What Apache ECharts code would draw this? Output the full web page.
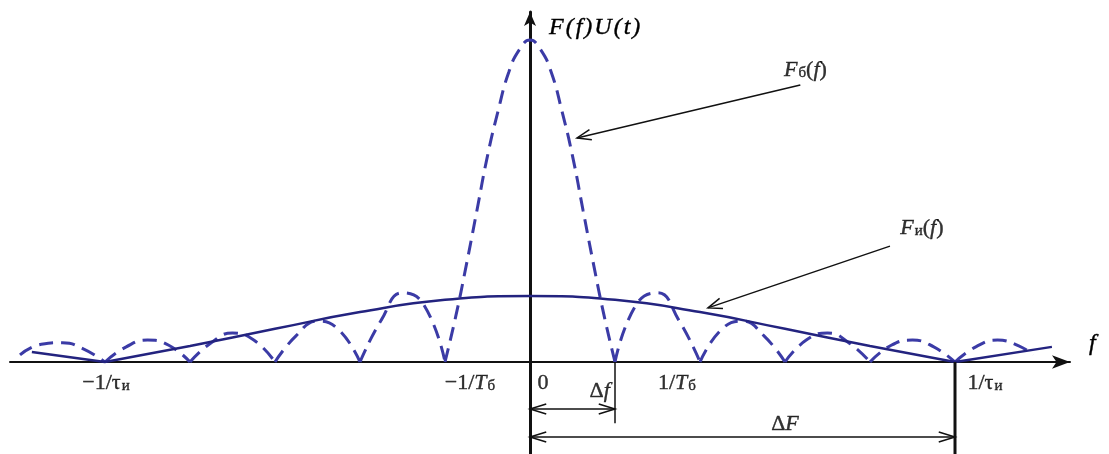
<!DOCTYPE html>
<html>
<head>
<meta charset="utf-8">
<script src="https://cdn.jsdelivr.net/npm/echarts@6/dist/echarts.min.js"></script>
<style>
html,body{margin:0;padding:0;background:#fff;}
#chart{width:1109px;height:454px;}
</style>
</head>
<body>
<div id="chart"></div>
<script>
// Fб(f) - dashed spectrum, lobes (x in 1/Tб, y relative to main peak)
var fbMainLobe = [[-1,0],[-0.875,0.14],[-0.75,0.30],[-0.625,0.47],[-0.5,0.64],[-0.375,0.78],[-0.25,0.90],[-0.125,0.97],
	[0,1],[0.125,0.97],[0.25,0.90],[0.375,0.78],[0.5,0.64],[0.625,0.47],[0.75,0.30],[0.875,0.14],[1,0]];
var fbLeftLobes = [
	[[-6,0.022],[-5.75,0.055],[-5.5,0.06],[-5.25,0.04],[-5,0]],
	[[-5,0],[-4.75,0.047],[-4.5,0.068],[-4.25,0.052],[-4,0]],
	[[-4,0],[-3.75,0.06],[-3.5,0.09],[-3.25,0.068],[-3,0]],
	[[-3,0],[-2.75,0.082],[-2.5,0.127],[-2.25,0.10],[-2,0]],
	[[-2,0],[-1.75,0.13],[-1.5,0.215],[-1.25,0.178],[-1,0]]
];
var fbRightLobes = [
	[[1,0],[1.25,0.178],[1.5,0.215],[1.75,0.13],[2,0]],
	[[2,0],[2.25,0.10],[2.5,0.127],[2.75,0.082],[3,0]],
	[[3,0],[3.25,0.068],[3.5,0.09],[3.75,0.06],[4,0]],
	[[4,0],[4.25,0.052],[4.5,0.068],[4.75,0.047],[5,0]],
	[[5,0],[5.25,0.048],[5.5,0.068],[5.75,0.05],[5.92,0.022]]
];
// Fи(f) - solid spectrum
var fiMain = [[-5,0],[-4,0.05],[-3,0.103],[-2,0.155],[-1,0.193],[0,0.205],[1,0.193],[2,0.155],[3,0.103],[4,0.05],[5,0]];
var fiLeftTail = [[-5.86,0.031],[-5,0]];
var fiRightTail = [[5,0],[6.14,0.047]];

// tick labels on the f axis
var tickValues = [-5, -1, 0, 1, 5];
var tickTexts = ['{n|\u22121/\u03c4}{s|\u0438}', '{n|\u22121/}{i|T}{s|\u0431}', '{n|0}', '{n|1/}{i|T}{s|\u0431}', '{n|1/\u03c4}{s|\u0438}'];

// annotations: pointer arrows [x1,y1,x2,y2], dimension arrows, texts
var pointerArrows = [[3.18,0.86,0.553,0.696],[4.235,0.36,2.094,0.168]];
var dimArrows = [[0,-0.146,1,-0.146],[0,-0.233,5,-0.233]];
var noteTexts = ['{i|F}{s|\u0431}{n|(}{i|f}{n|)}', '{i|F}{s|\u0438}{n|(}{i|f}{n|)}', '{n|\u0394}{i|f}', '{n|\u0394}{i|F}'];
var notePoints = [[3.24,0.907],[4.61,0.416],[0.82,-0.09],[3.0,-0.193]];
var dfLine = [[1,0],[1,-0.19]];
var tauLine = [[5,0],[5,-0.286]];

var serif = '"Liberation Serif","DejaVu Serif","Times New Roman",serif';
var ink = {color:'#000',textBorderColor:'#000',textBorderWidth:0.4};
var rich = {
	n:Object.assign({fontFamily:serif,fontSize:22},ink),
	i:Object.assign({fontFamily:serif,fontSize:22,fontStyle:'italic'},ink),
	s:Object.assign({fontFamily:serif,fontSize:15,verticalAlign:'bottom',padding:[0,0,0,1]},ink),
	t:Object.assign({fontFamily:serif,fontSize:24,fontStyle:'italic',padding:[0,1]},ink)
};
var tickShift = [1, 25, 13, 62, 30];

var dashStyle = {color:'#3b3ba6',width:3,type:[14,8]};
var solidStyle = {color:'#23237f',width:2.5};

var series = [];
function addLine(data, style){
	series.push({type:'line',data:data,smooth:true,symbol:'none',lineStyle:style,silent:true,clip:false});
}
fbLeftLobes.forEach(function(l){addLine(l,dashStyle);});
addLine(fbMainLobe,dashStyle);
fbRightLobes.forEach(function(l){addLine(l,dashStyle);});
addLine(fiLeftTail,solidStyle);
addLine(fiMain,solidStyle);
addLine(fiRightTail,solidStyle);
series.push({type:'line',data:dfLine,symbol:'none',lineStyle:{color:'#111',width:1.5},clip:false});
series.push({type:'line',data:tauLine,symbol:'none',lineStyle:{color:'#111',width:3},clip:false});

function head(tip, from, len, ang){
	var a = Math.atan2(from[1]-tip[1], from[0]-tip[0]);
	return [[tip[0]+len*Math.cos(a+ang), tip[1]+len*Math.sin(a+ang)], tip, [tip[0]+len*Math.cos(a-ang), tip[1]+len*Math.sin(a-ang)]];
}
function arrowSeries(rows, both, len, ang){
	return {
		type:'custom',clip:false,silent:true,data:rows,
		encode:{x:[0,2],y:[1,3]},
		renderItem:function(params, api){
			var p1 = api.coord([api.value(0),api.value(1)]);
			var p2 = api.coord([api.value(2),api.value(3)]);
			var st = {stroke:'#111',lineWidth:1.5,fill:null};
			var ch = [{type:'line',shape:{x1:p1[0],y1:p1[1],x2:p2[0],y2:p2[1]},style:st},
				{type:'polyline',shape:{points:head(p2,p1,len,ang)},style:st}];
			if(both) ch.push({type:'polyline',shape:{points:head(p1,p2,len,ang)},style:st});
			return {type:'group',children:ch};
		}
	};
}
series.push(arrowSeries(pointerArrows,false,15,0.36));
series.push(arrowSeries(dimArrows,true,17,0.3));

series.push({
	type:'scatter',symbolSize:0,silent:true,clip:false,
	data:tickValues.map(function(v,k){
		return {value:[v,0],name:tickTexts[k],label:{offset:[tickShift[k],21]}};
	}),
	label:{show:true,position:'inside',formatter:function(p){return p.name;},rich:rich}
});
series.push({
	type:'scatter',symbolSize:0,silent:true,clip:false,
	data:notePoints.map(function(p,k){return {value:p,name:noteTexts[k]};}),
	label:{show:true,position:'inside',formatter:function(p){return p.name;},rich:rich}
});

var myChart = echarts.init(document.getElementById('chart'));
var option = {
	animation:false,
	backgroundColor:'#fff',
	grid:{left:10,right:39,top:12,bottom:0},
	xAxis:{
		type:'value',min:-6.1176,max:6.3529,
		axisLine:{show:true,onZero:true,symbol:['none','arrow'],symbolSize:[10,18],lineStyle:{color:'#111',width:2}},
		axisTick:{show:false},axisLabel:{show:false},splitLine:{show:false},
		name:'{t|f}',nameLocation:'end',nameGap:18,
		nameTextStyle:{align:'left',verticalAlign:'middle',padding:[0,0,36,0],rich:rich}
	},
	yAxis:{
		type:'value',min:-0.2857,max:1.087,
		axisLine:{show:true,onZero:true,symbol:['none','arrow'],symbolSize:[9,14],lineStyle:{color:'#111',width:3}},
		axisTick:{show:false},axisLabel:{show:false},splitLine:{show:false},
		name:'{t|F}{t|(}{t|f}{t|)}{t|U}{t|(}{t|t}{t|)}',nameLocation:'end',nameGap:-16,
		nameTextStyle:{align:'left',verticalAlign:'middle',padding:[0,0,0,18],rich:rich}
	},
	series:series
};
myChart.setOption(option);
</script>
</body>
</html>
